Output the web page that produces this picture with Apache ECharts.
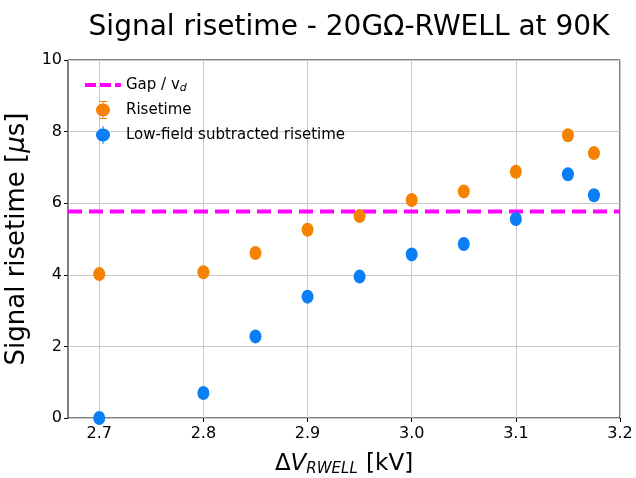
<!DOCTYPE html>
<html>
<head>
<meta charset="utf-8">
<script src="https://cdn.jsdelivr.net/npm/echarts@6/dist/echarts.min.js"></script>
<style>
  html, body { margin: 0; padding: 0; background: #fff; }
  #chart { width: 636px; height: 478px; }
</style>
</head>
<body>
<div id="chart"></div>
<script>
// data
const voltages = [2.7, 2.8, 2.85, 2.9, 2.95, 3.0, 3.05, 3.1, 3.15, 3.175];
const risetime = [4.02, 4.07, 4.61, 5.26, 5.64, 6.09, 6.33, 6.88, 7.9, 7.4];
const subtracted = [0.0, 0.70, 2.28, 3.39, 3.95, 4.57, 4.86, 5.56, 6.81, 6.22];
const gapOverVd = 5.77;
const xTicks = [2.7, 2.8, 2.9, 3.0, 3.1, 3.2];
const xRange = [2.67, 3.2];

const FONT = "DejaVu Sans";
const orange = "#f58200";
const blue = "#0a7ef5";

// legend icons (box 36 x 22)
const dashIcon = "path://M0,9 L11,9 L11,13 L0,13 Z M15,9 L26,9 L26,13 L15,13 Z M30,9 L36,9 L36,13 L30,13 Z M0,0 L0.01,0 L0.01,0.01 Z M0,22 L0.01,22 L0.01,21.99 Z";
const errIcon = "path://M14,2 L22,2 L22,3 L18.5,3 L18.5,4.5 A6.5,6.5 0 0 1 18.5,17.5 L18.5,19 L22,19 L22,20 L14,20 L14,19 L17.5,19 L17.5,17.5 A6.5,6.5 0 0 1 17.5,4.5 L17.5,3 L14,3 Z M0,0 L0.01,0 L0.01,0.01 Z M36,22 L35.99,22 L35.99,21.99 Z";
const dotIcon = "path://M17.5,2 L18.5,2 L18.5,4.5 A6.5,6.5 0 0 1 18.5,17.5 L18.5,20 L17.5,20 L17.5,17.5 A6.5,6.5 0 0 1 17.5,4.5 Z M0,0 L0.01,0 L0.01,0.01 Z M36,22 L35.99,22 L35.99,21.99 Z";

const chart = echarts.init(document.getElementById("chart"));

const option = {
  animation: false,
  textStyle: { fontFamily: FONT },
  title: {
    text: "Signal risetime - 20GΩ-RWELL at 90K",
    left: 344,
    top: 9,
    textAlign: "center",
    textStyle: { fontFamily: FONT, fontSize: 28, fontWeight: "normal", color: "#000" }
  },
  grid: {
    left: 68, right: 16, top: 60, bottom: 60,
    outerBoundsMode: "none",
    containLabel: false,
    show: true, borderColor: "#000", borderWidth: 1
  },
  legend: {
    orient: "vertical",
    left: 80,
    top: 69,
    itemGap: 3,
    itemWidth: 36,
    itemHeight: 22,
    data: [
      { name: "Gap / vd", icon: dashIcon },
      { name: "Risetime", icon: errIcon },
      { name: "Low-field subtracted risetime", icon: dotIcon }
    ],
    textStyle: {
      fontFamily: FONT, fontSize: 15, color: "#000",
      rich: { sub: { fontFamily: FONT, fontSize: 11, fontStyle: "italic", verticalAlign: "bottom", padding: [6, 0, 0, 0] } }
    },
    formatter: function (name) {
      return name === "Gap / vd" ? "Gap / v{sub|d}" : name;
    }
  },
  xAxis: {
    type: "value",
    min: xRange[0],
    max: xRange[1],
    name: "Δ{it|V}{sub|RWELL} [kV]",
    nameLocation: "middle",
    nameGap: 34,
    nameTextStyle: {
      fontFamily: FONT, fontSize: 23, color: "#000",
      rich: {
        it: { fontFamily: FONT, fontSize: 23, fontStyle: "italic", color: "#000" },
        sub: { fontFamily: FONT, fontSize: 15, fontStyle: "italic", color: "#000", padding: [10, 1, 0, 0] }
      }
    },
    axisLine: { show: false },
    axisTick: { show: true, inside: false, length: 4, lineStyle: { color: "#000" }, customValues: xTicks },
    axisLabel: {
      customValues: xTicks,
      fontFamily: FONT, fontSize: 16, color: "#000", margin: 8,
      formatter: v => v.toFixed(1)
    },
    splitLine: { show: true, lineStyle: { color: "#c8c8c8", width: 1 } }
  },
  yAxis: {
    type: "value",
    min: 0,
    max: 10,
    interval: 2,
    name: "Signal risetime [{mu|μ}s]",
    nameLocation: "middle",
    nameGap: 29,
    nameTextStyle: {
      fontFamily: FONT, fontSize: 26, color: "#000",
      rich: { mu: { fontFamily: FONT, fontSize: 26, fontStyle: "italic", color: "#000" } }
    },
    axisLine: { show: false },
    axisTick: { show: true, inside: false, length: 4, lineStyle: { color: "#000" } },
    axisLabel: { fontFamily: FONT, fontSize: 16, color: "#000", margin: 6 },
    splitLine: { show: true, lineStyle: { color: "#c8c8c8", width: 1 } }
  },
  series: [
    {
      name: "Gap / vd",
      type: "line",
      symbol: "none",
      data: [[xRange[0], gapOverVd], [xRange[1], gapOverVd]],
      lineStyle: { color: "#ff00ff", width: 4, type: [14, 7] },
      itemStyle: { color: "#ff00ff" },
      z: 3
    },
    {
      name: "Risetime",
      type: "scatter",
      symbol: "circle",
      symbolSize: [12, 14],
      data: voltages.map((v, i) => [v, risetime[i]]),
      itemStyle: { color: orange, opacity: 1 },
      z: 4
    },
    {
      name: "Low-field subtracted risetime",
      type: "scatter",
      symbol: "circle",
      symbolSize: [12, 14],
      data: voltages.map((v, i) => [v, subtracted[i]]),
      itemStyle: { color: blue, opacity: 1 },
      z: 4
    }
  ]
};

chart.setOption(option);
</script>
</body>
</html>
